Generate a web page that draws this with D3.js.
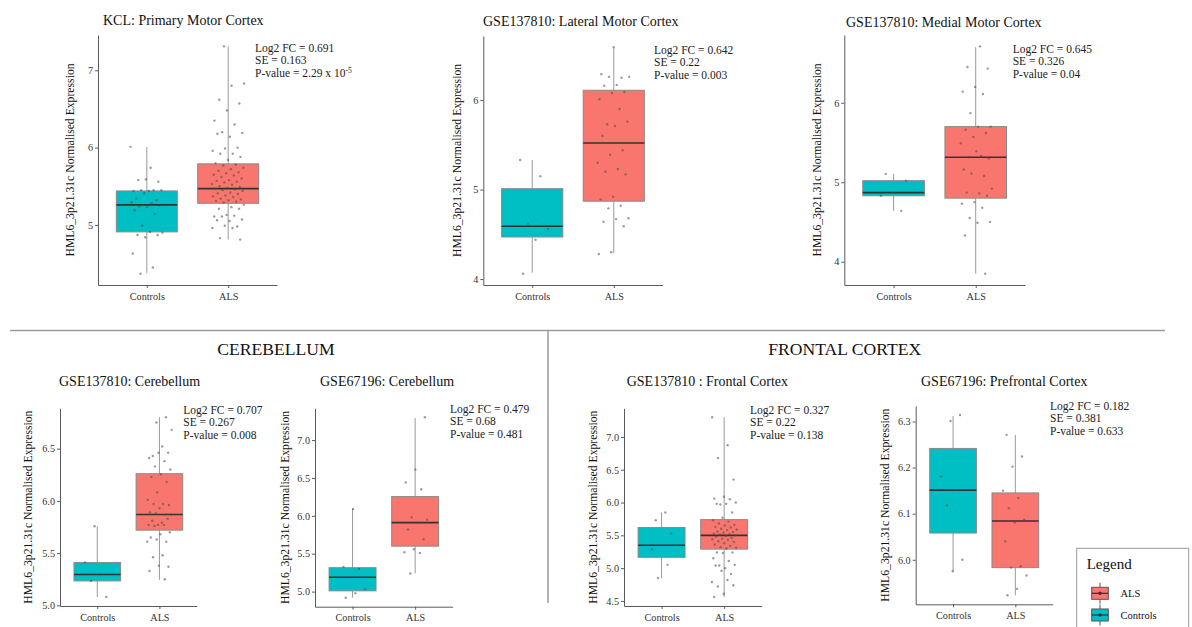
<!DOCTYPE html>
<html>
<head>
<meta charset="utf-8">
<script src="https://cdn.jsdelivr.net/npm/d3@7"></script>
<style>
  body { margin: 0; background: #fff; }
  svg, svg text { font-family: "Liberation Serif", "Times New Roman", serif !important; }
</style>
</head>
<body>
<svg id="fig" width="1192" height="627"></svg>
<script>
// groups on the x axis, in drawing order
const groups = ["Controls", "ALS"];
const groupColors = ["#00BFC4", "#F8766D"];

// box stats: [lower whisker, q1, median, q3, upper whisker]
const primaryCtrlBox = [4.375, 4.91, 5.26, 5.44, 6.01];
const primaryAlsBox = [4.81, 5.28, 5.47, 5.79, 7.31];
const lateralCtrlBox = [4.07, 4.47, 4.59, 5.01, 5.33];
const lateralAlsBox = [4.29, 4.87, 5.52, 6.11, 6.58];
const medialCtrlBox = [4.64, 4.83, 4.87, 5.02, 5.105];
const medialAlsBox = [3.85, 4.80, 5.315, 5.70, 6.70];
const cbl137CtrlBox = [5.08, 5.234, 5.295, 5.41, 5.757];
const cbl137AlsBox = [5.245, 5.72, 5.87, 6.26, 6.80];
const cbl671CtrlBox = [4.92, 5.01, 5.19, 5.316, 6.09];
const cbl671AlsBox = [5.24, 5.60, 5.91, 6.254, 7.29];
const frontalCtrlBox = [4.85, 5.165, 5.35, 5.62, 5.85];
const frontalAlsBox = [4.56, 5.29, 5.50, 5.74, 7.30];
const prefrontalCtrlBox = [5.975, 6.058, 6.151, 6.2415, 6.312];
const prefrontalAlsBox = [5.923, 5.983, 6.084, 6.145, 6.271];

// individual samples
const primaryCtrlPts = [6.01, 5.74, 5.58, 5.56, 5.59, 5.44, 5.45, 5.45, 5.45, 5.44, 5.34, 5.32, 5.41, 5.29, 5.28,
  5.24, 5.25, 5.23, 5.19, 5.14, 4.99, 4.90, 4.91, 4.87, 4.87, 4.84, 4.63, 4.45, 4.37];
const primaryAlsPts = [7.31, 6.83, 6.80, 6.62, 6.57, 6.48, 6.35, 6.30, 6.20, 6.19, 6.14, 6.18, 6.00, 5.99, 5.96,
  5.92, 5.92, 5.88, 5.84, 5.80, 5.78, 5.77, 5.74, 5.72, 5.70, 5.68, 5.67, 5.65, 5.64, 5.62, 5.60, 5.58, 5.57,
  5.56, 5.55, 5.53, 5.52, 5.50, 5.49, 5.48, 5.47, 5.46, 5.45, 5.44, 5.42, 5.41, 5.40, 5.38, 5.37, 5.36, 5.34,
  5.33, 5.32, 5.31, 5.30, 5.29, 5.26, 5.23, 5.21, 5.21, 5.13, 5.11, 5.12, 5.11, 5.07, 5.05, 5.06, 4.98, 4.99,
  4.96, 4.96, 4.83, 4.81];
const lateralCtrlPts = [5.33, 5.15, 4.62, 4.56, 4.44, 4.06];
const lateralAlsPts = [6.59, 6.29, 6.25, 6.26, 6.26, 6.17, 6.16, 6.09, 6.08, 6.01, 5.90, 5.73, 5.76, 5.71, 5.60,
  5.44, 5.39, 5.30, 5.23, 5.20, 5.17, 4.92, 4.89, 4.82, 4.79, 4.68, 4.67, 4.64, 4.59, 4.30, 4.28];
const medialCtrlPts = [5.105, 5.02, 4.87, 4.83, 4.64];
const medialAlsPts = [6.71, 6.45, 6.43, 6.20, 6.14, 6.11, 5.87, 5.70, 5.70, 5.66, 5.62, 5.57, 5.49, 5.33, 5.315,
  5.30, 5.39, 5.16, 5.08, 5.11, 4.92, 4.86, 4.87, 4.83, 4.75, 4.73, 4.68, 4.55, 4.50, 4.49, 4.33, 3.85];
const cbl137CtrlPts = [5.757, 5.41, 5.295, 5.234, 5.08];
const cbl137AlsPts = [6.80, 6.75, 6.68, 6.52, 6.43, 6.46, 6.46, 6.41, 6.38, 6.33, 6.30, 6.255, 6.23, 6.18, 6.08,
  6.01, 5.97, 5.97, 5.96, 5.93, 5.89, 5.87, 5.88, 5.87, 5.79, 5.81, 5.83, 5.77, 5.77, 5.77, 5.76, 5.70, 5.68,
  5.65, 5.61, 5.63, 5.61, 5.48, 5.46, 5.37, 5.38, 5.33, 5.25];
const cbl671CtrlPts = [6.09, 5.325, 5.30, 5.19, 5.03, 4.98, 4.92];
const cbl671AlsPts = [7.30, 6.61, 6.44, 6.35, 5.98, 5.95, 5.91, 5.82, 5.69, 5.56, 5.52, 5.51, 5.24];
const frontalCtrlPts = [5.85, 5.73, 5.53, 5.35, 5.29, 5.05, 4.85];
const frontalAlsPts = [7.30, 6.875, 6.68, 6.35, 6.09, 6.06, 6.05, 5.97, 6.00, 5.98, 5.98, 5.85, 5.77, 5.73, 5.71,
  5.68, 5.66, 5.65, 5.63, 5.62, 5.60, 5.59, 5.58, 5.56, 5.55, 5.54, 5.53, 5.52, 5.51, 5.50, 5.49, 5.48, 5.46,
  5.45, 5.44, 5.43, 5.41, 5.40, 5.38, 5.36, 5.34, 5.32, 5.31, 5.30, 5.24, 5.24, 5.23, 5.15, 5.11, 5.04, 5.05,
  5.00, 5.04, 4.91, 4.96, 4.79, 4.82, 4.72, 4.74, 4.61, 4.56];
const prefrontalCtrlPts = [6.314, 6.301, 6.181, 6.151, 6.118, 6.0, 5.975];
const prefrontalAlsPts = [6.271, 6.224, 6.202, 6.15, 6.134, 6.112, 6.087, 6.081, 6.04, 5.986, 5.983, 5.966,
  5.937, 5.923];

// titles, stats and tick labels per panel
const titles = ["KCL: Primary Motor Cortex", "GSE137810: Lateral Motor Cortex", "GSE137810: Medial Motor Cortex",
  "GSE137810: Cerebellum", "GSE67196: Cerebellum", "GSE137810 : Frontal Cortex", "GSE67196: Prefrontal Cortex"];
const log2fc = ["0.691", "0.642", "0.645", "0.707", "0.479", "0.327", "0.182"];
const se = ["0.163", "0.22", "0.326", "0.267", "0.68", "0.22", "0.381"];
const pvalues = ["2.29 x 10|-5", "0.003", "0.04", "0.008", "0.481", "0.138", "0.633"];
const ticksInt = [4, 5, 6, 7];
const ticksHalf = [4.5, 5.0, 5.5, 6.0, 6.5, 7.0];
const ticksTenth = [6.0, 6.1, 6.2, 6.3];
const sections = ["CEREBELLUM", "FRONTAL CORTEX"];
const yLabel = "HML6_3p21.31c Normalised Expression";

const panels = [
  { box: [primaryCtrlBox, primaryAlsBox], pts: [primaryCtrlPts, primaryAlsPts], ticks: ticksInt, fmt: "d",
    x0: 98, x1: 277, yT: 35, yB: 285, tx: 103, ty: 25, ax: 255, ay: 52, lx: 70 },
  { box: [lateralCtrlBox, lateralAlsBox], pts: [lateralCtrlPts, lateralAlsPts], ticks: ticksInt, fmt: "d",
    x0: 483.3, x1: 662.7, yT: 36, yB: 285, tx: 483, ty: 26, ax: 654, ay: 54, lx: 457 },
  { box: [medialCtrlBox, medialAlsBox], pts: [medialCtrlPts, medialAlsPts], ticks: ticksInt, fmt: "d",
    x0: 844.3, x1: 1025, yT: 35, yB: 285, tx: 846, ty: 26.5, ax: 1012.7, ay: 53, lx: 817 },
  { box: [cbl137CtrlBox, cbl137AlsBox], pts: [cbl137CtrlPts, cbl137AlsPts], ticks: ticksHalf, fmt: ".1f",
    x0: 60, x1: 196.7, yT: 408.3, yB: 606, tx: 59, ty: 386, ax: 183.3, ay: 414, lx: 28.3 },
  { box: [cbl671CtrlBox, cbl671AlsBox], pts: [cbl671CtrlPts, cbl671AlsPts], ticks: ticksHalf, fmt: ".1f",
    x0: 315, x1: 452.7, yT: 408.3, yB: 606.7, tx: 320, ty: 386, ax: 450, ay: 413, lx: 285 },
  { box: [frontalCtrlBox, frontalAlsBox], pts: [frontalCtrlPts, frontalAlsPts], ticks: ticksHalf, fmt: ".1f",
    x0: 624, x1: 761.7, yT: 408.3, yB: 606, tx: 626.7, ty: 386, ax: 750, ay: 414, lx: 593 },
  { box: [prefrontalCtrlBox, prefrontalAlsBox], pts: [prefrontalCtrlPts, prefrontalAlsPts], ticks: ticksTenth, fmt: ".1f",
    x0: 915.7, x1: 1052.7, yT: 406, yB: 604.3, tx: 921, ty: 386, ax: 1050, ay: 410, lx: 885 }
];

const serif = "'Liberation Serif', 'Times New Roman', serif";
const svg = d3.select("#fig");

panels.forEach(function (p, k) {
  const g = svg.append("g");

  // ggplot style 5% expansion of the data range
  const all = p.pts.flat().concat(p.box.flat());
  const [lo, hi] = d3.extent(all);
  const pad = (hi - lo) * 0.05;
  const y = d3.scaleLinear().domain([lo - pad, hi + pad]).range([p.yB, p.yT]);
  const x = d3.scalePoint().domain(groups).range([p.x0, p.x1]).padding(0.6);
  const step = x.step();
  const bw = step * 0.75;

  // axes
  const yAxis = g.append("g")
    .attr("transform", `translate(${p.x0},0)`)
    .call(d3.axisLeft(y).tickValues(p.ticks.filter(t => t >= y.domain()[0] && t <= y.domain()[1]))
      .tickFormat(d3.format(p.fmt)).tickSize(3).tickSizeOuter(0).tickPadding(2));
  const xAxis = g.append("g")
    .attr("transform", `translate(0,${p.yB})`)
    .call(d3.axisBottom(x).tickSize(3).tickSizeOuter(0).tickPadding(4.5));
  [yAxis, xAxis].forEach(a => {
    a.attr("font-family", serif).attr("font-size", 10.2);
    a.select(".domain").attr("stroke", "#5a5a5a").attr("stroke-width", 1);
    a.selectAll(".tick line").attr("stroke", "#5a5a5a");
    a.selectAll(".tick text").attr("fill", "#333");
  });

  // boxes
  groups.forEach(function (grp, i) {
    const s = p.box[i];
    const cx = x(grp);
    g.append("line")
      .attr("x1", cx).attr("x2", cx)
      .attr("y1", y(s[0])).attr("y2", y(s[4]))
      .attr("stroke", "#9a9a9a").attr("stroke-width", 1);
    g.append("rect")
      .attr("x", cx - bw / 2).attr("width", bw)
      .attr("y", y(s[3])).attr("height", y(s[1]) - y(s[3]))
      .attr("fill", groupColors[i])
      .attr("stroke", "#8a8a8a").attr("stroke-width", 1);
    g.append("line")
      .attr("x1", cx - bw / 2).attr("x2", cx + bw / 2)
      .attr("y1", y(s[2])).attr("y2", y(s[2]))
      .attr("stroke", "#333").attr("stroke-width", 1.6);
  });

  // jittered points (deterministic spread)
  groups.forEach(function (grp, i) {
    const cx = x(grp);
    g.selectAll(null)
      .data(p.pts[i])
      .enter()
      .append("circle")
      .attr("cx", (d, j) => cx + (((j * 0.618034 + i * 0.37 + k * 0.13) % 1) - 0.5) * 0.4 * step)
      .attr("cy", d => y(d))
      .attr("r", 1.2)
      .attr("fill", "#4a4a4a")
      .attr("opacity", 0.55);
  });

  // title
  g.append("text")
    .attr("x", p.tx).attr("y", p.ty)
    .attr("font-family", serif)
    .attr("font-size", 14)
    .attr("fill", "#111")
    .text(titles[k]);

  // y label
  g.append("text")
    .attr("transform", `translate(${p.lx},${(p.yT + p.yB) / 2}) rotate(-90)`)
    .attr("text-anchor", "middle")
    .attr("dy", "0.35em")
    .attr("font-family", serif)
    .attr("font-size", 11.7)
    .attr("fill", "#111")
    .text(yLabel);

  // stats annotation
  const ann = g.append("text")
    .attr("x", p.ax).attr("y", p.ay)
    .attr("font-family", serif)
    .attr("font-size", 11.5)
    .attr("fill", "#222");
  ann.append("tspan").attr("x", p.ax).attr("dy", 0).text("Log2 FC = " + log2fc[k]);
  ann.append("tspan").attr("x", p.ax).attr("dy", 12.4).text("SE = " + se[k]);
  const pv = pvalues[k].split("|");
  ann.append("tspan").attr("x", p.ax).attr("dy", 12.4).text("P-value = " + pv[0]);
  if (pv[1]) {
    ann.append("tspan").attr("dy", -4).attr("font-size", 7.5).text(pv[1]);
  }
});

// dividers
svg.append("line").attr("x1", 10).attr("x2", 1165).attr("y1", 330.5).attr("y2", 330.5)
  .attr("stroke", "#9a9a9a").attr("stroke-width", 1.5);
svg.append("line").attr("x1", 548).attr("x2", 548).attr("y1", 330.5).attr("y2", 603)
  .attr("stroke", "#9a9a9a").attr("stroke-width", 1.5);

// section headers
svg.selectAll(".section")
  .data(sections)
  .enter()
  .append("text")
  .attr("class", "section")
  .attr("x", (d, i) => [217.3, 768.3][i])
  .attr("y", 354.5)
  .attr("font-family", serif)
  .attr("font-size", 17.6)
  .attr("fill", "#111")
  .text(d => d);

// legend
const lg = svg.append("g").attr("font-family", serif);
lg.append("rect").attr("x", 1076.7).attr("y", 548.3).attr("width", 112).attr("height", 100)
  .attr("fill", "#fff").attr("stroke", "#9a9a9a").attr("stroke-width", 1);
lg.append("text").attr("x", 1086.7).attr("y", 569).attr("font-size", 15).attr("fill", "#111").text("Legend");
const legendKeys = ["ALS", "Controls"];
legendKeys.forEach(function (name, i) {
  const cy = 593.3 + i * 21.7;
  const color = groupColors[groups.indexOf(name)];
  lg.append("line").attr("x1", 1100).attr("x2", 1100).attr("y1", cy - 10.5).attr("y2", cy + 10.5)
    .attr("stroke", "#555").attr("stroke-width", 1);
  lg.append("rect").attr("x", 1091.7).attr("y", cy - 6).attr("width", 16.6).attr("height", 12)
    .attr("fill", color).attr("stroke", "#555").attr("stroke-width", 1);
  lg.append("line").attr("x1", 1091.7).attr("x2", 1108.3).attr("y1", cy).attr("y2", cy)
    .attr("stroke", "#333").attr("stroke-width", 1.2);
  lg.append("circle").attr("cx", 1100).attr("cy", cy).attr("r", 1.8).attr("fill", "#333");
  lg.append("text").attr("x", 1120.5).attr("y", cy + 3.5).attr("font-size", 10.5).attr("fill", "#111").text(name);
});
</script>
</body>
</html>
